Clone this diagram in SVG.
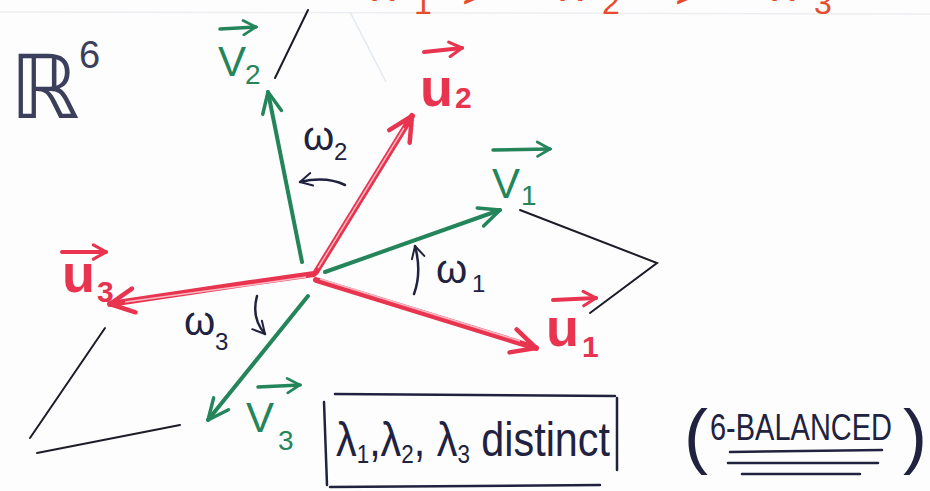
<svg xmlns="http://www.w3.org/2000/svg" width="930" height="491" viewBox="0 0 930 491">
<style>
  .ink{fill:#20223f;font-family:"Liberation Sans","DejaVu Sans",sans-serif}
  .red{fill:#e8344f;font-family:"Liberation Sans","DejaVu Sans",sans-serif;font-weight:bold}
  .grn{fill:#24855a;font-family:"Liberation Sans","DejaVu Sans",sans-serif}
  .org{fill:#e84a2c;font-family:"Liberation Sans","DejaVu Sans",sans-serif}
  .rl{stroke:#e8344f;stroke-width:6;fill:none;stroke-linecap:round}
  .rlin{stroke:#f7b9c4;stroke-width:1.5;fill:none}
  .gl{stroke:#24855a;stroke-width:4;fill:none;stroke-linecap:round}
  .bl{stroke:#1c1c28;stroke-width:2;fill:none;stroke-linecap:round}
  .nl{stroke:#20223f;stroke-width:2.5;fill:none;stroke-linecap:round}
  .rv{stroke:#e8344f;stroke-width:4;fill:none;stroke-linecap:round}
  .gv{stroke:#24855a;stroke-width:3.5;fill:none;stroke-linecap:round}
</style>
<defs>
  <marker id="hr" viewBox="0 0 30 30" refX="27" refY="15" markerWidth="30" markerHeight="30" markerUnits="userSpaceOnUse" orient="auto">
    <path d="M3,3 L27,15 L3,27" fill="none" stroke="#e8344f" stroke-width="4.5" stroke-linecap="round" stroke-linejoin="round"/>
  </marker>
  <marker id="hg" viewBox="0 0 30 30" refX="27" refY="15" markerWidth="26" markerHeight="26" markerUnits="userSpaceOnUse" orient="auto">
    <path d="M3,4 L27,15 L3,26" fill="none" stroke="#24855a" stroke-width="4" stroke-linecap="round" stroke-linejoin="round"/>
  </marker>
  <marker id="hn" viewBox="0 0 20 20" refX="18" refY="10" markerWidth="16" markerHeight="16" markerUnits="userSpaceOnUse" orient="auto">
    <path d="M3,2 L18,10 L3,18" fill="none" stroke="#20223f" stroke-width="2.5" stroke-linecap="round" stroke-linejoin="round"/>
  </marker>
  <marker id="hsr" viewBox="0 0 20 20" refX="18" refY="10" markerWidth="18" markerHeight="18" markerUnits="userSpaceOnUse" orient="auto">
    <path d="M4,2 L18,10 L4,18" fill="none" stroke="#e8344f" stroke-width="3.5" stroke-linecap="round"/>
  </marker>
  <marker id="hsg" viewBox="0 0 20 20" refX="18" refY="10" markerWidth="18" markerHeight="18" markerUnits="userSpaceOnUse" orient="auto">
    <path d="M4,2 L18,10 L4,18" fill="none" stroke="#24855a" stroke-width="3" stroke-linecap="round"/>
  </marker>
</defs>
<rect width="930" height="491" fill="#fdfdfd"/>
<g id="paper">
  <line x1="0" y1="12" x2="930" y2="14" stroke="#eceef1" stroke-width="1.5"/>
  <line x1="350" y1="12" x2="386" y2="82" stroke="#e2e9f0" stroke-width="1.5"/>
</g>
<!-- top clipped orange text -->
<g id="order">
  <text class="org" x="372" y="1" font-size="46">λ</text>
  <text class="org" x="414" y="14" font-size="32">1</text>
  <text class="org" x="462" y="8" font-size="46">&gt;</text>
  <text class="org" x="560" y="1" font-size="46">λ</text>
  <text class="org" x="602" y="14" font-size="32">2</text>
  <text class="org" x="675" y="8" font-size="46">&gt;</text>
  <text class="org" x="772" y="1" font-size="46">λ</text>
  <text class="org" x="814" y="14" font-size="32">3</text>
</g>
<g id="connectors">
  <line class="rl" x1="316" y1="272" x2="412" y2="116" marker-end="url(#hr)"/>
  <line class="rlin" x1="318" y1="268" x2="404" y2="128"/>
  <line class="gl" x1="302" y1="262" x2="268" y2="92" marker-end="url(#hg)"/>
  <line class="gl" x1="325" y1="272" x2="500" y2="210" marker-end="url(#hg)"/>
  <line class="rl" x1="316" y1="280" x2="536" y2="348" marker-end="url(#hr)"/>
  <line class="rlin" x1="320" y1="279" x2="520" y2="341"/>
  <path class="rl" d="M314,274 L250,283 L110,304" marker-end="url(#hr)"/>
  <path class="rlin" d="M306,277 L250,285 L125,302"/>
  <line class="gl" x1="308" y1="296" x2="208" y2="420" marker-end="url(#hg)"/>
  <line class="bl" x1="275" y1="78" x2="308" y2="10"/>
  <polyline class="bl" points="520,210 657,263 590,313"/>
  <line class="bl" x1="30" y1="438" x2="105" y2="328"/>
  <line class="bl" x1="37" y1="453" x2="180" y2="425"/>
</g>
<g id="R6">
  <text class="ink" x="10" y="118" font-size="88" style="fill:#3b3f5c">ℝ</text>
  <text class="ink" x="79" y="68" font-size="38" style="fill:#3b3f5c">6</text>
</g>
<g id="u2">
  <line class="rv" x1="424" y1="52" x2="462" y2="48" marker-end="url(#hsr)"/>
  <text class="red" x="420" y="106" font-size="54">u</text>
  <text class="red" x="455" y="108" font-size="30">2</text>
</g>
<g id="v2">
  <line class="gv" x1="220" y1="29" x2="256" y2="27" marker-end="url(#hsg)"/>
  <text class="grn" x="218" y="76" font-size="42">V</text>
  <text class="grn" x="245" y="84" font-size="28">2</text>
</g>
<g id="v1">
  <line class="gv" x1="493" y1="150" x2="550" y2="149" marker-end="url(#hsg)"/>
  <text class="grn" x="492" y="198" font-size="42">V</text>
  <text class="grn" x="521" y="205" font-size="28">1</text>
</g>
<g id="u1">
  <line class="rv" x1="553" y1="300" x2="596" y2="298" marker-end="url(#hsr)"/>
  <text class="red" x="546" y="346" font-size="54">u</text>
  <text class="red" x="582" y="357" font-size="30">1</text>
</g>
<g id="u3">
  <line class="rv" x1="62" y1="252" x2="106" y2="252" marker-end="url(#hsr)"/>
  <text class="red" x="62" y="292" font-size="54">u</text>
  <text class="red" x="97" y="302" font-size="30">3</text>
</g>
<g id="v3">
  <line class="gv" x1="258" y1="387" x2="300" y2="385" marker-end="url(#hsg)"/>
  <text class="grn" x="246" y="432" font-size="42">V</text>
  <text class="grn" x="278" y="450" font-size="28">3</text>
</g>
<g id="w2">
  <text class="ink" x="303" y="150" font-size="40">ω</text>
  <text class="ink" x="334" y="160" font-size="24">2</text>
  <path class="nl" d="M345,185 Q326,176 300,182" marker-end="url(#hn)"/>
</g>
<g id="w1">
  <path class="nl" d="M414,294 Q422,272 415,246" marker-end="url(#hn)"/>
  <text class="ink" x="436" y="283" font-size="40">ω</text>
  <text class="ink" x="472" y="292" font-size="24">1</text>
</g>
<g id="w3">
  <text class="ink" x="184" y="335" font-size="40">ω</text>
  <text class="ink" x="215" y="350" font-size="24">3</text>
  <path class="nl" d="M257,296 Q251,318 265,334" marker-end="url(#hn)"/>
</g>
<g id="distinct">
  <line class="nl" x1="335" y1="394" x2="615" y2="396"/>
  <line class="nl" x1="324" y1="402" x2="327" y2="485"/>
  <line class="nl" x1="617" y1="398" x2="617" y2="470"/>
  <line class="nl" x1="330" y1="487" x2="600" y2="485"/>
  <text class="ink" x="336" y="456" font-size="48" textLength="274" lengthAdjust="spacingAndGlyphs">λ<tspan font-size="26" dy="7">1</tspan><tspan dy="-7">,λ</tspan><tspan font-size="26" dy="7">2</tspan><tspan dy="-7">, λ</tspan><tspan font-size="26" dy="7">3</tspan><tspan dy="-7"> distinct</tspan></text>
</g>
<g id="balanced">
  <text class="ink" x="684" y="460" font-size="72">(</text>
  <text class="ink" x="710" y="440" font-size="36" textLength="182" lengthAdjust="spacingAndGlyphs">6-BALANCED</text>
  <text class="ink" x="903" y="460" font-size="72">)</text>
  <line class="nl" x1="730" y1="452" x2="882" y2="450"/>
  <line class="nl" x1="728" y1="463" x2="878" y2="463"/>
  <line class="nl" x1="742" y1="474" x2="860" y2="474"/>
</g>
</svg>
